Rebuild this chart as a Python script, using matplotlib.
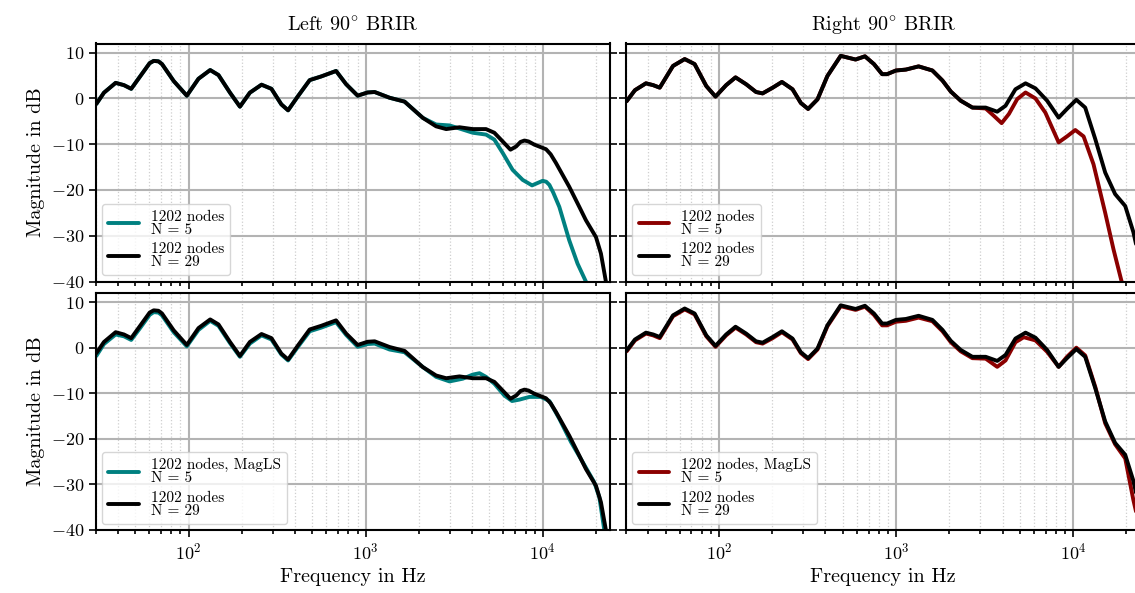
import numpy as np
import matplotlib
matplotlib.use("Agg")
import matplotlib.pyplot as plt

# ---------------- data (log10 of frequency in Hz, magnitude in dB) ----------------
# Left 90° BRIR, reference 1202 nodes N = 29
left_ref_logf = [1.479, 1.522, 1.588, 1.635, 1.676, 1.728, 1.78, 1.803, 1.83, 1.85, 1.916, 1.99,
                 2.056, 2.122, 2.169, 2.234, 2.29, 2.346, 2.412, 2.468, 2.524, 2.562, 2.618,
                 2.684, 2.749, 2.833, 2.89, 2.955, 3.011, 3.051, 3.135, 3.22, 3.323, 3.398,
                 3.455, 3.53, 3.605, 3.68, 3.727, 3.774, 3.818, 3.85, 3.875, 3.897, 3.92,
                 3.953, 4.019, 4.045, 4.075, 4.15, 4.207, 4.244, 4.301, 4.329, 4.357, 4.37]
left_ref_db = [-1.2, 1.25, 3.4, 2.9, 2.1, 4.9, 7.7, 8.2, 8.1, 7.5, 3.8, 0.6,
               4.3, 6.2, 5.1, 1.25, -1.8, 1.25, 3.0, 2.1, -1.3, -2.6, 0.5,
               4.0, 4.8, 6.0, 3.1, 0.6, 1.3, 1.4, 0.15, -0.7, -4.25, -6.1,
               -6.7, -6.3, -6.7, -6.7, -7.5, -9.4, -11.2, -10.5, -9.5, -9.2, -9.4,
               -10.1, -11.1, -12.2, -14.1, -19.3, -23.7, -26.6, -30.3, -33.9, -40.0, -45.0]

# Left, 1202 nodes N = 5
left_n5_logf = [1.479, 1.522, 1.588, 1.635, 1.676, 1.728, 1.78, 1.803, 1.83, 1.85, 1.916, 1.99,
                2.056, 2.122, 2.169, 2.234, 2.29, 2.346, 2.412, 2.468, 2.524, 2.562, 2.618,
                2.684, 2.749, 2.833, 2.89, 2.955, 3.011, 3.051, 3.135, 3.22, 3.323, 3.398,
                3.474, 3.54, 3.605, 3.68, 3.727, 3.774, 3.83, 3.887, 3.94, 3.97, 4.0, 4.02,
                4.038, 4.06, 4.094, 4.15, 4.197, 4.244, 4.26]
left_n5_db = [-1.2, 1.25, 3.4, 2.9, 2.1, 4.9, 7.7, 8.2, 8.1, 7.5, 3.8, 0.6,
              4.3, 6.2, 5.1, 1.25, -1.8, 1.25, 3.0, 2.1, -1.3, -2.6, 0.5,
              4.0, 4.8, 6.0, 3.1, 0.6, 1.3, 1.4, 0.15, -0.7, -4.25, -5.7,
              -5.9, -6.7, -7.5, -7.9, -9.0, -11.9, -15.6, -17.8, -19.0, -18.5, -18.0, -18.2,
              -18.9, -20.6, -23.7, -31.0, -36.1, -40.0, -43.0]

# Left, 1202 nodes MagLS N = 5
left_mag_logf = [1.479, 1.522, 1.588, 1.635, 1.676, 1.728, 1.78, 1.803, 1.83, 1.85, 1.916, 1.99,
                 2.056, 2.122, 2.169, 2.234, 2.29, 2.346, 2.412, 2.468, 2.524, 2.562, 2.618,
                 2.684, 2.749, 2.833, 2.89, 2.955, 3.011, 3.051, 3.135, 3.22, 3.323, 3.398,
                 3.474, 3.549, 3.605, 3.643, 3.68, 3.727, 3.784, 3.827, 3.868, 3.925, 3.99,
                 4.038, 4.094, 4.16, 4.226, 4.291, 4.32, 4.348, 4.36]
left_mag_db = [-1.8, 0.8, 2.9, 2.5, 1.7, 4.4, 7.2, 7.8, 7.7, 7.1, 3.4, 0.3,
               3.9, 5.9, 4.8, 1.0, -2.0, 0.9, 2.7, 1.8, -1.5, -2.8, 0.2,
               3.6, 4.4, 5.6, 2.8, 0.2, 0.8, 0.9, -0.4, -1.0, -4.25, -6.4,
               -7.4, -6.8, -5.9, -5.6, -6.4, -7.9, -10.5, -11.7, -11.4, -10.8, -10.8,
               -11.7, -15.6, -20.7, -25.1, -29.5, -32.8, -40.0, -45.0]

# Right 90° BRIR, reference 1202 nodes N = 29
right_ref_logf = [1.479, 1.526, 1.588, 1.629, 1.666, 1.741, 1.807, 1.863, 1.929, 1.981, 2.041,
                  2.094, 2.154, 2.21, 2.247, 2.304, 2.356, 2.416, 2.463, 2.504, 2.557, 2.613,
                  2.688, 2.772, 2.825, 2.876, 2.922, 2.95, 3.0, 3.056, 3.128, 3.206, 3.263,
                  3.31, 3.366, 3.432, 3.507, 3.572, 3.619, 3.675, 3.732, 3.788, 3.854,
                  3.919, 3.966, 4.019, 4.069, 4.126, 4.182, 4.238, 4.295, 4.341, 4.38]
right_ref_db = [-0.6, 1.8, 3.3, 2.9, 2.35, 7.1, 8.6, 7.5, 2.7, 0.4, 2.9,
                4.6, 3.1, 1.4, 1.1, 2.35, 3.6, 2.0, -1.0, -2.3, -0.2, 4.9,
                9.3, 8.5, 9.2, 7.5, 5.3, 5.3, 6.1, 6.3, 7.0, 6.1, 3.9,
                1.5, -0.5, -2.0, -2.0, -2.9, -1.6, 2.0, 3.3, 2.2, -0.5,
                -4.2, -2.3, -0.3, -2.0, -8.9, -16.2, -20.9, -23.5, -29.2, -36.0]

# Right, 1202 nodes N = 5
right_n5_logf = [1.479, 1.526, 1.588, 1.629, 1.666, 1.741, 1.807, 1.863, 1.929, 1.981, 2.041,
                 2.094, 2.154, 2.21, 2.247, 2.304, 2.356, 2.416, 2.463, 2.504, 2.557, 2.613,
                 2.688, 2.772, 2.825, 2.876, 2.922, 2.95, 3.0, 3.056, 3.128, 3.206, 3.263,
                 3.31, 3.366, 3.432, 3.507, 3.553, 3.597, 3.638, 3.685, 3.732, 3.788, 3.844,
                 3.919, 3.966, 4.013, 4.06, 4.116, 4.182, 4.229, 4.272, 4.29]
right_n5_db = [-0.6, 1.8, 3.3, 2.9, 2.35, 7.1, 8.6, 7.5, 2.7, 0.4, 2.9,
               4.6, 3.1, 1.4, 1.1, 2.35, 3.6, 2.0, -1.0, -2.3, -0.2, 4.9,
               9.3, 8.5, 9.2, 7.5, 5.3, 5.3, 6.1, 6.3, 7.0, 6.1, 3.9,
               1.5, -0.5, -2.0, -2.2, -3.8, -5.4, -3.4, -0.15, 1.3, 0.0, -3.1,
               -9.6, -8.3, -6.9, -8.3, -14.4, -25.0, -33.0, -39.6, -42.0]

# Right, 1202 nodes MagLS N = 5
right_mag_logf = [1.479, 1.526, 1.588, 1.629, 1.666, 1.741, 1.807, 1.863, 1.929, 1.981, 2.041,
                  2.094, 2.154, 2.21, 2.247, 2.304, 2.356, 2.416, 2.463, 2.504, 2.557, 2.613,
                  2.688, 2.772, 2.825, 2.876, 2.922, 2.95, 3.0, 3.056, 3.128, 3.206, 3.263,
                  3.31, 3.366, 3.432, 3.507, 3.572, 3.619, 3.675, 3.722, 3.788, 3.854,
                  3.919, 3.966, 4.019, 4.069, 4.126, 4.182, 4.238, 4.295, 4.341, 4.38]
right_mag_db = [-0.8, 1.6, 3.1, 2.7, 2.1, 6.9, 8.4, 7.3, 2.5, 0.2, 2.7,
                4.4, 2.9, 1.2, 0.9, 2.1, 3.4, 1.8, -1.2, -2.5, -0.4, 4.7,
                9.1, 8.3, 9.0, 7.2, 4.9, 4.9, 5.7, 5.9, 6.6, 5.8, 3.6,
                1.2, -0.8, -2.3, -2.4, -4.2, -2.8, 1.2, 2.3, 1.6, -0.9,
                -4.2, -2.0, 0.0, -1.7, -8.6, -16.6, -21.2, -24.3, -33.4, -40.0]

titles = [r"Left $\mathdefault{90}^{\circ}$ BRIR", r"Right $\mathdefault{90}^{\circ}$ BRIR"]
label_n5 = "1202 nodes\nN = 5"
label_mag = "1202 nodes, MagLS\nN = 5"
label_ref = "1202 nodes\nN = 29"
teal = "#008080"
darkred = "#8b0000"

# ---------------- style ----------------
plt.rcParams.update({
    "font.family": "serif",
    "font.serif": ["cmr10"],
    "mathtext.fontset": "cm",
    "axes.formatter.use_mathtext": True,
    "font.size": 13,
})

fig = plt.figure(figsize=(11.35, 5.93), dpi=100)
W, H = 1135.0, 593.0

def pos(x0, x1, y0, y1):
    return [x0 / W, 1 - y1 / H, (x1 - x0) / W, (y1 - y0) / H]

ax_tl = fig.add_axes(pos(96, 610, 43.5, 281.5))
ax_tr = fig.add_axes(pos(626.3, 1140.3, 43.5, 281.5))
ax_bl = fig.add_axes(pos(96, 610, 293, 530))
ax_br = fig.add_axes(pos(626.3, 1140.3, 293, 530))

def f(logf):
    return 10 ** np.asarray(logf)

lw = 2.8
panels = [
    (ax_tl, left_n5_logf, left_n5_db, teal, label_n5, left_ref_logf, left_ref_db),
    (ax_tr, right_n5_logf, right_n5_db, darkred, label_n5, right_ref_logf, right_ref_db),
    (ax_bl, left_mag_logf, left_mag_db, teal, label_mag, left_ref_logf, left_ref_db),
    (ax_br, right_mag_logf, right_mag_db, darkred, label_mag, right_ref_logf, right_ref_db),
]

for ax, lf, db, col, lab, rlf, rdb in panels:
    ax.plot(f(lf), db, color=col, lw=lw, label=lab, solid_capstyle="round", solid_joinstyle="round")
    ax.plot(f(rlf), rdb, color="black", lw=lw, label=label_ref, solid_capstyle="round",
            solid_joinstyle="round")
    ax.set_xscale("log")
    ax.set_xlim(30, 24000)
    ax.set_ylim(-40, 12)
    ax.set_yticks([-40, -30, -20, -10, 0, 10])
    ax.grid(which="major", color="#b3b3b3", lw=1.5)
    ax.grid(which="minor", axis="x", color="#cfcfcf", ls=":", lw=0.9)
    ax.set_axisbelow(True)
    ax.tick_params(which="both", direction="out", left=True, right=True, bottom=True, top=False,
                   width=1.2, colors="black")
    ax.tick_params(which="major", length=5, labelsize=13)
    ax.tick_params(which="minor", length=3)
    for s in ax.spines.values():
        s.set_linewidth(1.5)
    leg = ax.legend(loc="lower left", fontsize=11, handlelength=2.0, borderaxespad=0.4,
                    labelspacing=0.4, handletextpad=0.8, borderpad=0.4)
    for t in leg.get_texts():
        t.set_linespacing(0.92)

for ax in (ax_tl, ax_tr):
    ax.tick_params(labelbottom=False)
for ax in (ax_tr, ax_br):
    ax.tick_params(labelleft=False)
for ax in (ax_tl, ax_bl):
    ax.set_ylabel("Magnitude in dB", fontsize=14.5)
for ax in (ax_bl, ax_br):
    ax.set_xlabel("Frequency in Hz", fontsize=14.5)
ax_tl.set_title(titles[0], pad=9, fontsize=14.5)
ax_tr.set_title(titles[1], pad=9, fontsize=14.5)

fig.savefig("out.png", dpi=100)
